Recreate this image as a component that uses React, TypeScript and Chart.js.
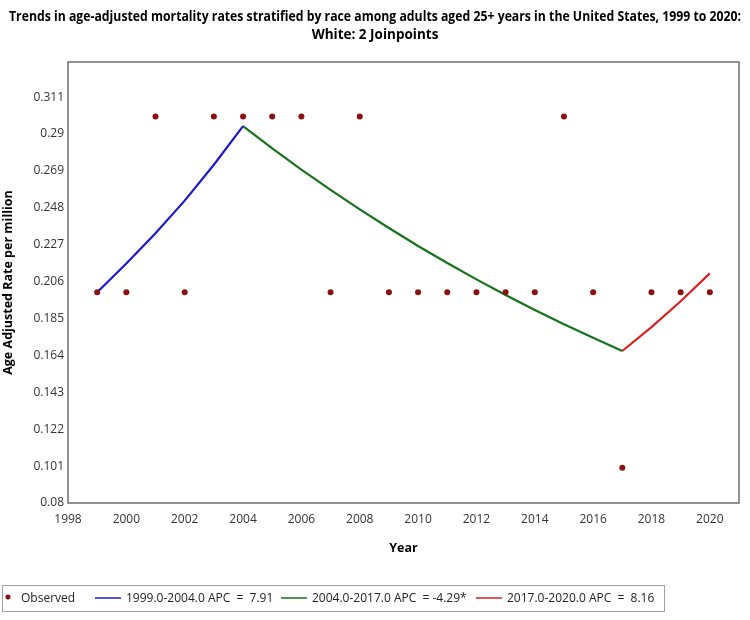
import React, { useEffect, useRef } from "react";
import { Chart, registerables } from "chart.js";

Chart.register(...registerables);

const titleLines = [
  "Trends in age-adjusted mortality rates stratified by race among adults aged 25+ years in the United States, 1999 to 2020:",
  "White: 2 Joinpoints",
];
const xAxisTitle = "Year";
const yAxisTitle = "Age Adjusted Rate per million";

const years = [1999, 2000, 2001, 2002, 2003, 2004, 2005, 2006, 2007, 2008, 2009, 2010, 2011, 2012, 2013, 2014, 2015, 2016, 2017, 2018, 2019, 2020];
const observed = [0.2, 0.2, 0.3, 0.2, 0.3, 0.3, 0.3, 0.3, 0.2, 0.3, 0.2, 0.2, 0.2, 0.2, 0.2, 0.2, 0.3, 0.2, 0.1, 0.2, 0.2, 0.2];

const seg1Years = [1999, 2000, 2001, 2002, 2003, 2004];
const seg1Values = [0.2, 0.2163, 0.2335, 0.2521, 0.2725, 0.2945];
const seg2Years = [2004, 2005, 2006, 2007, 2008, 2009, 2010, 2011, 2012, 2013, 2014, 2015, 2016, 2017];
const seg2Values = [0.2945, 0.2819, 0.2697, 0.2582, 0.2471, 0.2365, 0.2263, 0.2166, 0.2073, 0.1984, 0.1899, 0.1818, 0.174, 0.1665];
const seg3Years = [2017, 2018, 2019, 2020];
const seg3Values = [0.1665, 0.1801, 0.1948, 0.2107];

const xTicks = [1998, 2000, 2002, 2004, 2006, 2008, 2010, 2012, 2014, 2016, 2018, 2020];
const yTicks = [0.08, 0.101, 0.122, 0.143, 0.164, 0.185, 0.206, 0.227, 0.248, 0.269, 0.29, 0.311];
const yTickLabels = ["0.08", "0.101", "0.122", "0.143", "0.164", "0.185", "0.206", "0.227", "0.248", "0.269", "0.29", "0.311"];

const legendLabels = [
  "Observed",
  "1999.0-2004.0 APC  =  7.91",
  "2004.0-2017.0 APC  = -4.29*",
  "2017.0-2020.0 APC  =  8.16",
];

const COL_OBS = "#8b1010";
const COL_BLUE = "#1a1acc";
const COL_GREEN = "#16731a";
const COL_RED = "#d82222";

const FONT = '"Open Sans", "Noto Sans", sans-serif';

const toXY = (xs: number[], ys: number[]) => xs.map((x, i) => ({ x, y: ys[i] }));

const decorPlugin = {
  id: "decor",
  afterDraw(chart: any) {
    const { ctx, chartArea: a } = chart;
    ctx.save();
    // plot frame
    ctx.strokeStyle = "#6e6e6e";
    ctx.lineWidth = 1.5;
    ctx.strokeRect(a.left, a.top, a.right - a.left, a.bottom - a.top);

    // title
    ctx.fillStyle = "#000";
    ctx.textAlign = "center";
    ctx.textBaseline = "middle";
    ctx.font = `bold 13.5px ${FONT}`;
    ctx.fillText(titleLines[0], 375, 17, 732);
    ctx.fillText(titleLines[1], 375, 35, 732);

    // legend
    ctx.strokeStyle = "#a0a0a0";
    ctx.lineWidth = 1;
    ctx.strokeRect(2.5, 585.5, 662, 26);
    const ly = 599;
    ctx.font = `12px ${FONT}`;
    ctx.textAlign = "left";
    // observed marker
    ctx.beginPath();
    ctx.fillStyle = COL_OBS;
    ctx.arc(8, ly - 2, 2.5, 0, Math.PI * 2);
    ctx.fill();
    ctx.fillStyle = "#222";
    ctx.fillText(legendLabels[0], 21, ly);
    const items = [
      { x: 95, color: COL_BLUE, label: legendLabels[1] },
      { x: 281, color: COL_GREEN, label: legendLabels[2] },
      { x: 476, color: COL_RED, label: legendLabels[3] },
    ];
    items.forEach((it) => {
      ctx.strokeStyle = it.color;
      ctx.lineWidth = 1.5;
      ctx.beginPath();
      ctx.moveTo(it.x, ly - 1);
      ctx.lineTo(it.x + 26, ly - 1);
      ctx.stroke();
      ctx.fillStyle = "#222";
      ctx.fillText(it.label, it.x + 31, ly);
    });
    ctx.restore();
  },
};

export default function App() {
  const ref = useRef<HTMLCanvasElement>(null);
  useEffect(() => {
    if (!ref.current) return;
    const chart = new Chart(ref.current, {
      type: "line",
      data: {
        datasets: [
          {
            label: legendLabels[0],
            data: toXY(years, observed),
            showLine: false,
            pointRadius: 3,
            pointBackgroundColor: COL_OBS,
            pointBorderColor: COL_OBS,
            pointBorderWidth: 0,
            borderColor: COL_OBS,
          },
          {
            label: legendLabels[1],
            data: toXY(seg1Years, seg1Values),
            borderColor: COL_BLUE,
            borderWidth: 2.2,
            pointRadius: 0,
            tension: 0,
          },
          {
            label: legendLabels[2],
            data: toXY(seg2Years, seg2Values),
            borderColor: COL_GREEN,
            borderWidth: 2.2,
            pointRadius: 0,
            tension: 0,
          },
          {
            label: legendLabels[3],
            data: toXY(seg3Years, seg3Values),
            borderColor: COL_RED,
            borderWidth: 2.2,
            pointRadius: 0,
            tension: 0,
          },
        ],
      },
      options: {
        responsive: false,
        animation: false,
        layout: { padding: { top: 62, left: 0, right: 11, bottom: 57 } },
        plugins: {
          legend: { display: false },
          tooltip: { enabled: false },
          title: { display: false },
        },
        scales: {
          x: {
            type: "linear",
            min: 1998,
            max: 2021,
            grid: { display: false, drawTicks: false },
            border: { display: false },
            afterBuildTicks: (s: any) => {
              s.ticks = xTicks.map((v) => ({ value: v }));
            },
            afterFit: (s: any) => {
              s.height = 60;
            },
            ticks: {
              color: "#333",
              font: { family: FONT, size: 12 },
              padding: 9,
              maxRotation: 0,
              autoSkip: false,
              callback: (v: any) => String(v),
            },
            title: {
              display: true,
              text: xAxisTitle,
              color: "#000",
              font: { family: FONT, size: 12.5, weight: "bold" },
              padding: { top: 0, bottom: 7 },
            },
          },
          y: {
            type: "linear",
            min: 0.08,
            max: 0.331,
            grid: { display: false, drawTicks: false },
            border: { display: false },
            afterBuildTicks: (s: any) => {
              s.ticks = yTicks.map((v) => ({ value: v }));
            },
            afterFit: (s: any) => {
              s.width = 68;
            },
            ticks: {
              color: "#333",
              font: { family: FONT, size: 12 },
              padding: 4,
              autoSkip: false,
              callback: (v: any) => {
                const i = yTicks.indexOf(v);
                return i >= 0 ? yTickLabels[i] : String(v);
              },
            },
            title: {
              display: true,
              text: yAxisTitle,
              color: "#000",
              font: { family: FONT, size: 12.5, weight: "bold" },
              padding: { top: 1, bottom: 0 },
            },
          },
        },
      },
      plugins: [decorPlugin],
    });
    return () => chart.destroy();
  }, []);
  return (
    <div style={{ position: "fixed", left: 0, top: 0, width: 750, height: 620, background: "#fff" }}>
      <canvas ref={ref} width={750} height={620} />
    </div>
  );
}
